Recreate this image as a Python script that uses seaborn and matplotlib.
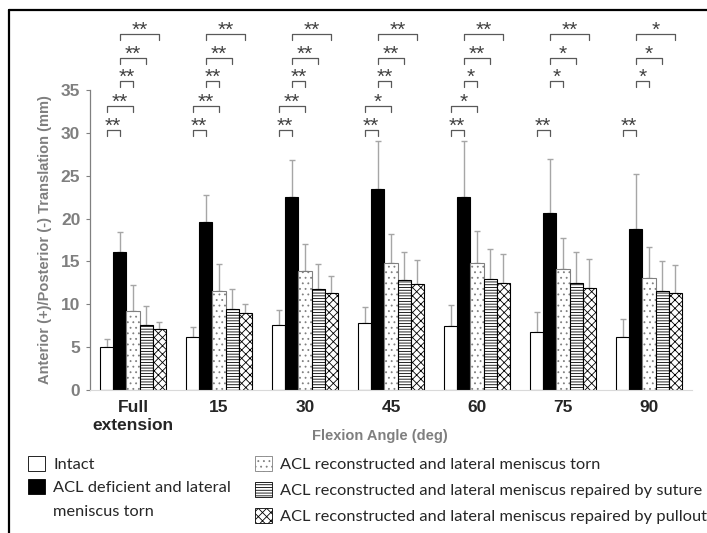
import matplotlib
matplotlib.use("Agg")
import pandas as pd
import matplotlib.pyplot as plt
import seaborn as sns
from matplotlib.patches import Patch
from matplotlib.lines import Line2D

sns.set_style("white")
plt.rcParams["font.family"] = ["Liberation Sans", "DejaVu Sans"]
plt.rcParams["hatch.linewidth"] = 0.6

ANGLES = ["Full\nextension", "15", "30", "45", "60", "75", "90"]
CONDITIONS = [
    "Intact",
    "ACL deficient and lateral\nmeniscus torn",
    "ACL reconstructed and lateral meniscus torn",
    "ACL reconstructed and lateral meniscus repaired by suture",
    "ACL reconstructed and lateral meniscus repaired by pullout",
]

# mean translation (mm) per flexion angle
INTACT = [5.05, 6.15, 7.55, 7.8, 7.45, 6.8, 6.2]
DEFICIENT = [16.05, 19.55, 22.55, 23.4, 22.55, 20.6, 18.75]
TORN = [9.2, 11.55, 13.88, 14.78, 14.78, 14.08, 13.03]
SUTURE = [7.55, 9.5, 11.8, 12.85, 12.9, 12.45, 11.55]
PULLOUT = [7.08, 8.95, 11.35, 12.37, 12.45, 11.94, 11.35]

# standard deviations (upper whisker only)
INTACT_SD = [0.95, 1.15, 1.8, 1.9, 2.45, 2.35, 2.1]
DEFICIENT_SD = [2.35, 3.15, 4.25, 5.6, 6.45, 6.4, 6.4]
TORN_SD = [3.1, 3.15, 3.1, 3.4, 3.8, 3.6, 3.6]
SUTURE_SD = [2.2, 2.25, 2.9, 3.25, 3.6, 3.65, 3.45]
PULLOUT_SD = [0.8, 1.05, 2.0, 2.75, 3.4, 3.4, 3.25]

# significance: compared bar pairs and marks per angle
SIG_PAIRS = [(0, 1), (0, 2), (1, 2), (1, 3), (1, 4)]
SIG_MARKS = [
    ["**", "**", "**", "**", "**"],
    ["**", "**", "**", "**", "**"],
    ["**", "**", "**", "**", "**"],
    ["**", "*", "**", "**", "**"],
    ["**", "*", "*", "**", "**"],
    ["**", "", "*", "*", "**"],
    ["**", "", "*", "*", "*"],
]

MEANS = [INTACT, DEFICIENT, TORN, SUTURE, PULLOUT]
SDS = [INTACT_SD, DEFICIENT_SD, TORN_SD, SUTURE_SD, PULLOUT_SD]
FACES = ["white", "black", "white", "white", "white"]
EDGES = ["black", "black", "#808080", "black", "black"]
HATCHES = ["", "", "...", "------", "xxxx"]
BRACKET_Y = [30.3, 33.1, 36.0, 38.7, 41.5]

rows = []
for cond, vals in zip(CONDITIONS, MEANS):
    for ang, v in zip(ANGLES, vals):
        rows.append({"angle": ang, "condition": cond, "value": v})
df = pd.DataFrame(rows)

fig = plt.figure(figsize=(7.07, 5.33), dpi=100)
ax = fig.add_axes([0.1273, 0.2683, 0.8515, 0.7075])

sns.barplot(data=df, x="angle", y="value", hue="condition", order=ANGLES,
            hue_order=CONDITIONS, palette=dict(zip(CONDITIONS, FACES)),
            saturation=1, width=0.77, edgecolor="black", linewidth=0.8,
            errorbar=None, legend=False, ax=ax)

bar_groups = list(ax.containers)
for i, cont in enumerate(bar_groups):
    xs = []
    for bar in cont:
        bar.set_edgecolor(EDGES[i])
        bar.set_hatch(HATCHES[i])
        xs.append(bar.get_x() + bar.get_width() / 2)
    ax.errorbar(xs, MEANS[i], yerr=[[0] * len(xs), SDS[i]], fmt="none",
                ecolor="#a6a6a6", elinewidth=1.0, capsize=2.5, capthick=1.0,
                zorder=0.5)

# significance brackets
for g, marks in enumerate(SIG_MARKS):
    for k, mark in enumerate(marks):
        if not mark:
            continue
        a, b = SIG_PAIRS[k]
        ba, bb = bar_groups[a][g], bar_groups[b][g]
        x1 = ba.get_x() + ba.get_width() / 2
        x2 = bb.get_x() + bb.get_width() / 2
        y = BRACKET_Y[k]
        ax.plot([x1, x1, x2, x2], [y - 0.7, y, y, y - 0.7], color="#595959",
                lw=0.9, clip_on=False)
        ax.text((x1 + x2) / 2, y - 0.15, mark, ha="center", va="baseline",
                fontsize=15, color="#404040")

ax.set_ylim(0, 44)
ax.set_xlim(-0.5, 6.5)
ax.set_yticks(range(0, 36, 5))
ax.tick_params(axis="y", left=True, length=3, width=0.8, color="#808080", pad=4,
               labelsize=12.5, labelcolor="#7f7f7f")
ax.tick_params(axis="x", length=0, pad=7, labelsize=12.5)
for lab in ax.get_yticklabels():
    lab.set_fontweight("bold")
for lab in ax.get_xticklabels():
    lab.set_fontweight("bold")
    lab.set_linespacing(1.25)

for s in ["top", "right"]:
    ax.spines[s].set_visible(False)
ax.spines["left"].set_bounds(0, 35)
ax.spines["left"].set_color("#808080")
ax.spines["left"].set_linewidth(0.9)
ax.spines["bottom"].set_color("#d9d9d9")
ax.spines["bottom"].set_linewidth(0.8)

ax.set_xlabel("")
ax.set_ylabel("Anterior (+)/Posterior (-) Translation (mm)", fontsize=10.5,
              fontweight="bold", color="#7f7f7f")
ax.yaxis.set_label_coords(-0.063, 0.398)
fig.text(380 / 707, 1 - 436 / 533, "Flexion Angle (deg)", ha="center",
         va="center", fontsize=10.5, fontweight="bold", color="#7f7f7f")

# legends below the chart
handles = [Patch(facecolor=f, edgecolor=e, hatch=h, linewidth=0.6)
           for f, e, h in zip(FACES, EDGES, HATCHES)]
leg_kw = dict(frameon=False, handlelength=1.05, handleheight=1.05,
              handletextpad=0.5, borderaxespad=0, borderpad=0,
              prop={"family": "Lato", "size": 11.8})
left_labels = [CONDITIONS[0]] + CONDITIONS[1].split("\n")
left_handles = handles[:2] + [Patch(visible=False)]
fig.legend(left_handles, left_labels, loc="upper left",
           bbox_to_anchor=(28 / 707, 1 - 456 / 533), labelspacing=0.43, **leg_kw)
fig.legend(handles[2:], CONDITIONS[2:], loc="upper left",
           bbox_to_anchor=(255 / 707, 1 - 456 / 533), labelspacing=0.6, **leg_kw)

# frame remnants on top and left edge
fig.add_artist(Line2D([9 / 707, 1], [1 - 10 / 533, 1 - 10 / 533],
                      transform=fig.transFigure, color="black", lw=1.6))
fig.add_artist(Line2D([9 / 707, 9 / 707], [0, 1 - 10 / 533],
                      transform=fig.transFigure, color="black", lw=1.6))

fig.savefig("out.png", dpi=100, facecolor="white")
